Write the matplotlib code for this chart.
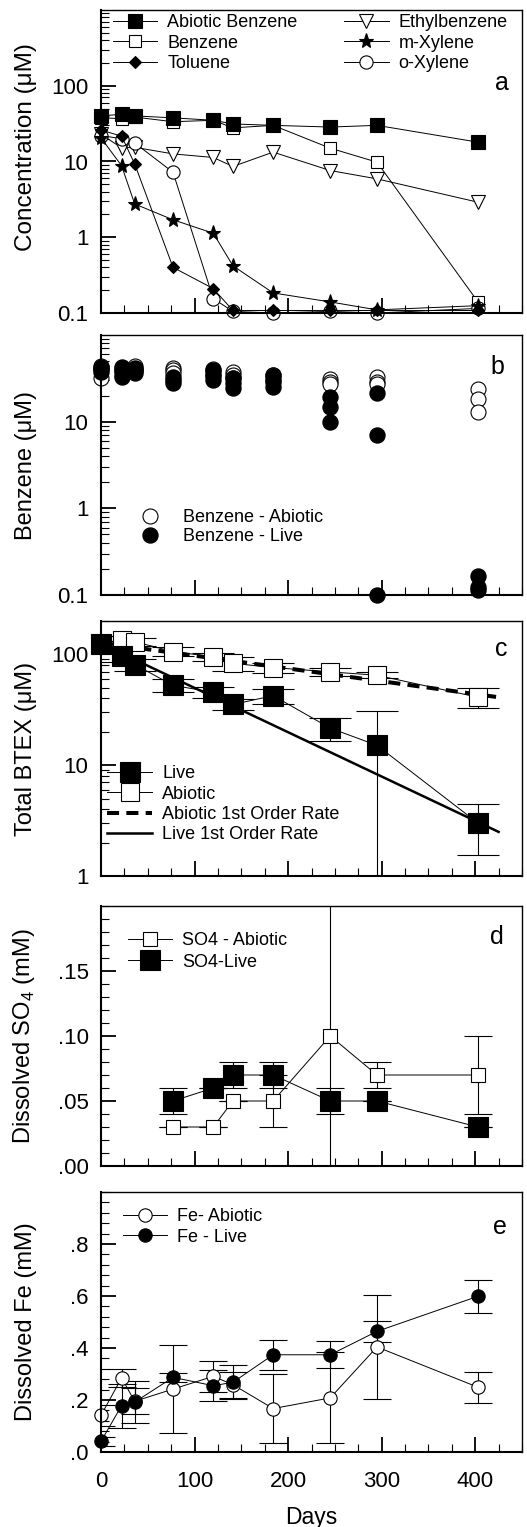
import numpy as np
import matplotlib
matplotlib.use('Agg')
import matplotlib.pyplot as plt
from matplotlib.ticker import FixedLocator, FixedFormatter, MultipleLocator, LogLocator, NullFormatter

plt.rcParams['font.family'] = ['Liberation Sans', 'DejaVu Sans']

# sampling days
days = [0, 22, 36, 77, 120, 141, 184, 245, 295, 403]

# panel a - concentrations (uM)
abiotic_benzene = [40, 42, 40, 37.7, 35, 31.3, 30, 28.5, 30, 18]
benzene = [38, 36.6, 38.6, 33.5, 35, 27.8, 30, 15, 9.8, 0.14]
toluene = [26, 21.6, 9.3, 0.40, 0.21, 0.108, 0.108, 0.108, 0.108, 0.108]
ethylbenzene = [23, 15.1, 15.4, 12.6, 11.3, 8.6, 13.3, 7.6, 5.9, 2.9]
m_xylene = [20.5, 8.8, 2.75, 1.7, 1.13, 0.42, 0.184, 0.14, 0.11, 0.125]
o_xylene = [22, 20, 17.6, 7.2, 0.155, 0.105, 0.1, 0.105, 0.1, 0.115]
a_yticks = [0.1, 1, 10, 100]
a_yticklabels = ['0.1', '1', '10', '100']

# panel b - benzene replicates (uM)
b_abiotic_days = [0, 0, 0, 22, 22, 22, 36, 36, 36, 77, 77, 77, 120, 120, 120,
                  141, 141, 141, 184, 184, 184, 245, 245, 245, 295, 295, 295, 403, 403, 403]
b_abiotic = [44, 41, 32, 42, 38, 35, 44, 41, 38, 42, 39, 36, 40, 37, 34,
             37, 35, 32, 35, 32, 30, 31, 29, 27, 33, 29, 27, 23.6, 18.1, 13.1]
b_live_days = [0, 0, 0, 22, 22, 22, 36, 36, 36, 77, 77, 77, 120, 120, 120,
               141, 141, 141, 184, 184, 184, 245, 245, 245, 295, 295, 295, 403, 403, 403]
b_live = [43, 40, 37, 43, 38, 33, 42, 39, 36, 33, 30, 27.7, 39, 34.5, 30,
          31.6, 27.7, 24.2, 34.5, 29, 25.3, 19.1, 14.9, 10, 21.2, 7.0, 0.1, 0.164, 0.123, 0.114]
b_yticks = [0.1, 1, 10]
b_yticklabels = ['0.1', '1', '10']

# panel c - total BTEX (uM)
live_c = [123, 97, 81, 52.5, 45.5, 35.3, 42.4, 21.6, 15.1, 3.0]
live_c_lo = [8, 12, 10, 7, 5, 4, 6.5, 5.2, 14.95, 1.46]
live_c_hi = [8, 12, 10, 7, 5, 4, 6.5, 5.2, 16, 1.5]
abiotic_c = [125, 135, 130, 106, 95, 83, 76, 69.5, 64.8, 41]
abiotic_c_err = [8, 10, 10, 10, 8, 12, 8, 6, 4, 8.5]
fit_days = [0, 425]
abiotic_fit = [127, 41]
live_fit = [125, 2.5]
c_yticks = [1, 10, 100]
c_yticklabels = ['1', '10', '100']

# panel d - dissolved SO4 (mM)
days_d = [77, 120, 141, 184, 245, 295, 403]
so4_abiotic = [0.03, 0.03, 0.05, 0.05, 0.10, 0.07, 0.07]
so4_abiotic_err = [0, 0, 0, 0.02, 0.2, 0.01, 0.03]
so4_live = [0.05, 0.06, 0.07, 0.07, 0.05, 0.05, 0.03]
so4_live_err = [0.01, 0, 0.01, 0.01, 0.01, 0, 0]
d_yticks = [0, 0.05, 0.10, 0.15]
d_yticklabels = ['.00', '.05', '.10', '.15']

# panel e - dissolved Fe (mM)
fe_abiotic = [0.141, 0.285, 0.195, 0.242, 0.291, 0.259, 0.167, 0.208, 0.404, 0.249]
fe_abiotic_err = [0.04, 0.035, 0.05, 0.17, 0.06, 0.05, 0.133, 0.175, 0.2, 0.06]
fe_live = [0.041, 0.178, 0.192, 0.287, 0.255, 0.268, 0.374, 0.374, 0.464, 0.599]
fe_live_err = [0.017, 0.085, 0.08, 0.018, 0.06, 0.065, 0.058, 0.052, 0.04, 0.064]
e_yticks = [0, 0.2, 0.4, 0.6, 0.8]
e_yticklabels = ['.0', '.2', '.4', '.6', '.8']


fig = plt.figure(figsize=(5.27, 15.27), dpi=100)
H = 1527.0


def add_axes(top, bottom):
    return fig.add_axes([101 / 527, 1 - bottom / H, 421 / 527, (bottom - top) / H])


ax_a = add_axes(10, 313)
ax_b = add_axes(335, 595)
ax_c = add_axes(621, 876)
ax_d = add_axes(906, 1166)
ax_e = add_axes(1192, 1452)


def style(ax, last=False):
    ax.set_xlim(0, 450)
    ax.xaxis.set_major_locator(MultipleLocator(100))
    ax.xaxis.set_minor_locator(MultipleLocator(25))
    ax.tick_params(which='both', direction='in', top=False, right=False, labelsize=16)
    ax.tick_params(which='major', length=11, width=1.3)
    ax.tick_params(which='minor', length=6, width=0.8)
    ax.tick_params(axis='y', pad=9)
    ax.tick_params(axis='x', pad=14, labelbottom=last)
    for s in ax.spines.values():
        s.set_linewidth(1.0)
    ax.spines['left'].set_linewidth(1.5)
    ax.spines['bottom'].set_linewidth(1.5)


def log_y(ax, lo, hi, ticks, labels):
    ax.set_yscale('log')
    ax.set_ylim(lo, hi)
    ax.yaxis.set_major_locator(FixedLocator(ticks))
    ax.yaxis.set_major_formatter(FixedFormatter(labels))
    ax.yaxis.set_minor_locator(LogLocator(base=10, subs=np.arange(2, 10), numticks=20))
    ax.yaxis.set_minor_formatter(NullFormatter())


def lin_y(ax, hi, ticks, labels, minor):
    ax.set_ylim(0, hi)
    ax.yaxis.set_major_locator(FixedLocator(ticks))
    ax.yaxis.set_major_formatter(FixedFormatter(labels))
    ax.yaxis.set_minor_locator(MultipleLocator(minor))


for ax in [ax_a, ax_b, ax_c, ax_d, ax_e]:
    style(ax, last=(ax is ax_e))

line_kw = dict(color='black', lw=0.7, mec='black', mew=0.8, clip_on=False)
leg_kw = dict(frameon=False, fontsize=13, borderpad=0, borderaxespad=0, loc='upper left')

# ---- a
log_y(ax_a, 0.1, 1000, a_yticks, a_yticklabels)
h_bz, = ax_a.plot(days, benzene, marker='s', ms=9, mfc='white', **line_kw)
h_eb, = ax_a.plot(days, ethylbenzene, marker='v', ms=9.5, mfc='white', **line_kw)
h_ox, = ax_a.plot(days, o_xylene, marker='o', ms=9.5, mfc='white', **line_kw)
h_mx, = ax_a.plot(days, m_xylene, marker='*', ms=11, mfc='black', **line_kw)
h_tol, = ax_a.plot(days, toluene, marker='D', ms=6.6, mfc='black', **line_kw)
h_ab, = ax_a.plot(days, abiotic_benzene, marker='s', ms=9.6, mfc='black', **line_kw)
ax_a.legend([h_ab, h_bz, h_tol, h_eb, h_mx, h_ox],
            ['Abiotic Benzene', 'Benzene', 'Toluene', 'Ethylbenzene', 'm-Xylene', 'o-Xylene'],
            ncol=2, bbox_to_anchor=(0.0285, 0.987), handlelength=2.45, handletextpad=0.55,
            columnspacing=2.6, labelspacing=0.2, **leg_kw)
ax_a.set_ylabel('Concentration (\u03bcM)', fontsize=17.5)
ax_a.yaxis.set_label_coords(-0.152, 0.548)
ax_a.text(0.952, 0.759, 'a', transform=ax_a.transAxes, ha='center', va='center', fontsize=18)

# ---- b
log_y(ax_b, 0.1, 100, b_yticks, b_yticklabels)
ax_b.plot(b_abiotic_days, b_abiotic, 'o', ms=10.8, mfc='white', mec='black', mew=0.8,
          clip_on=False, label='Benzene - Abiotic')
ax_b.plot(b_live_days, b_live, 'o', ms=10.8, color='black', clip_on=False, label='Benzene - Live')
ax_b.legend(bbox_to_anchor=(0.0936, 0.33), handlelength=1.06, handletextpad=1.3,
            labelspacing=0.1, **leg_kw)
ax_b.set_ylabel('Benzene (\u03bcM)', fontsize=17)
ax_b.yaxis.set_label_coords(-0.152, 0.5)
ax_b.text(0.941, 0.877, 'b', transform=ax_b.transAxes, ha='center', va='center', fontsize=18)

# ---- c
log_y(ax_c, 1, 200, c_yticks, c_yticklabels)
eb_kw = dict(color='black', ecolor='black', lw=0.7, elinewidth=0.8, capsize=15, capthick=0.8,
             mec='black', mew=0.8)
eb_ab = ax_c.errorbar(days, abiotic_c, yerr=abiotic_c_err, fmt='s', ls='-', ms=13, mfc='white', **eb_kw)
eb_lv = ax_c.errorbar(days, live_c, yerr=[live_c_lo, live_c_hi], fmt='s', ls='-', ms=14.4,
                      mfc='black', **eb_kw)
for eb in (eb_ab, eb_lv):
    eb[0].set_clip_on(False)
h_af, = ax_c.plot(fit_days, abiotic_fit, ls=(0, (3, 1.8)), lw=2.9, color='black')
h_lf, = ax_c.plot(fit_days, live_fit, ls='-', lw=1.8, color='black')
ax_c.legend([eb_lv[0], eb_ab[0], h_af, h_lf],
            ['Live', 'Abiotic', 'Abiotic 1st Order Rate', 'Live 1st Order Rate'],
            bbox_to_anchor=(0.0143, 0.435), handlelength=2.5, handletextpad=0.55,
            labelspacing=0.19, **leg_kw)
ax_c.set_ylabel('Total BTEX (\u03bcM)', fontsize=17)
ax_c.yaxis.set_label_coords(-0.152, 0.5)
ax_c.text(0.950, 0.89, 'c', transform=ax_c.transAxes, ha='center', va='center', fontsize=18)

# ---- d
lin_y(ax_d, 0.2, d_yticks, d_yticklabels, 0.01)
eb_kw['capsize'] = 10
eb_sa = ax_d.errorbar(days_d, so4_abiotic, yerr=so4_abiotic_err, fmt='s', ls='-', ms=10.5,
                      mfc='white', **eb_kw)
eb_sl = ax_d.errorbar(days_d, so4_live, yerr=so4_live_err, fmt='s', ls='-', ms=14,
                      mfc='black', **eb_kw)
ax_d.legend([eb_sa[0], eb_sl[0]], ['SO4 - Abiotic', 'SO4-Live'],
            bbox_to_anchor=(0.064, 0.9), handlelength=2.44, handletextpad=0.55,
            labelspacing=0.25, **leg_kw)
ax_d.set_ylabel('Dissolved SO$_\\mathregular{4}$ (mM)', fontsize=17)
ax_d.yaxis.set_label_coords(-0.152, 0.5)
ax_d.text(0.941, 0.881, 'd', transform=ax_d.transAxes, ha='center', va='center', fontsize=18)

# ---- e
lin_y(ax_e, 1.0, e_yticks, e_yticklabels, 0.04)
eb_fa = ax_e.errorbar(days, fe_abiotic, yerr=fe_abiotic_err, fmt='o', ls='-', ms=9.6,
                      mfc='white', **eb_kw)
eb_fl = ax_e.errorbar(days, fe_live, yerr=fe_live_err, fmt='o', ls='-', ms=9.6,
                      mfc='black', **eb_kw)
for eb in (eb_fa, eb_fl):
    eb[0].set_clip_on(False)
ax_e.legend([eb_fa[0], eb_fl[0]], ['Fe- Abiotic', 'Fe - Live'],
            bbox_to_anchor=(0.052, 0.938), handlelength=2.44, handletextpad=0.55,
            labelspacing=0.2, **leg_kw)
ax_e.set_ylabel('Dissolved Fe (mM)', fontsize=17)
ax_e.yaxis.set_label_coords(-0.152, 0.5)
ax_e.text(0.948, 0.865, 'e', transform=ax_e.transAxes, ha='center', va='center', fontsize=18)
ax_e.set_xlabel('Days', fontsize=16.5, labelpad=10)

fig.savefig('out.png', dpi=100)
